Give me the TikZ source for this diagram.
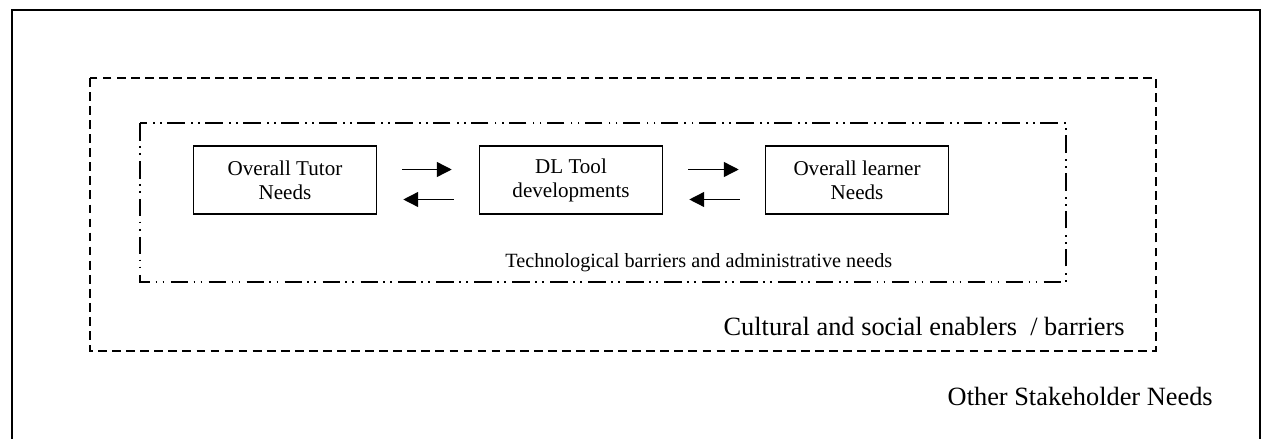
\documentclass[tikz,border=0pt]{standalone}
\usepackage{fontspec}
\setmainfont{Liberation Serif}
\usetikzlibrary{arrows.meta,positioning}

\begin{document}
\begin{tikzpicture}[
  x=0.02cm, y=-0.02cm,
  needbox/.style={draw, line width=0.9pt, minimum height=1.36cm, minimum width=3.66cm,
                  inner sep=0pt, align=center, font=\fontsize{12}{13.6}\selectfont},
  arrow/.style={-{Triangle[length=8.5pt,width=8.5pt]}, line width=0.8pt},
  layer/.style={line width=0.9pt},
  label/.style={inner sep=0pt, font=\fontsize{15}{17}\selectfont},
]
\useasboundingbox (0,0) rectangle (1263,439);

% Cadres
\draw[line width=1.1pt] (12,445) -- (12,10) -- (1260,10) -- (1260,445);
\draw[layer, dash pattern=on 5pt off 3pt] (90,78) rectangle (1156,351);
\draw[layer, dash pattern=on 10pt off 3pt on 1pt off 3pt on 1pt off 3.6pt] (140,123) rectangle (1066,282);

% Boîtes
\node[needbox] (tutor)   at (285,180) {Overall Tutor\\Needs};
\node[needbox] (tool)    at (571,180) {DL Tool\\developments};
\node[needbox] (learner) at (857,180) {Overall learner\\Needs};

% Flèches
\draw[arrow] ([xshift=0.5cm,yshift=0.21cm]tutor.east) -- ([xshift=-0.54cm,yshift=0.21cm]tool.west);
\draw[arrow] ([xshift=-0.5cm,yshift=-0.39cm]tool.west) -- ([xshift=0.52cm,yshift=-0.39cm]tutor.east);
\draw[arrow] ([xshift=0.5cm,yshift=0.21cm]tool.east) -- ([xshift=-0.52cm,yshift=0.21cm]learner.west);
\draw[arrow] ([xshift=-0.5cm,yshift=-0.39cm]learner.west) -- ([xshift=0.52cm,yshift=-0.39cm]tool.east);

% Annotations
\node[label, anchor=west, font=\fontsize{11.5}{13}\selectfont] (tech) at (505,263) {Technological barriers and administrative needs};
\node[label, anchor=east] (culture) at (1125,326) {Cultural and social enablers \ / barriers};
\node[label, anchor=east] (other)   at (1213,396) {Other Stakeholder Needs};

\end{tikzpicture}
\end{document}
